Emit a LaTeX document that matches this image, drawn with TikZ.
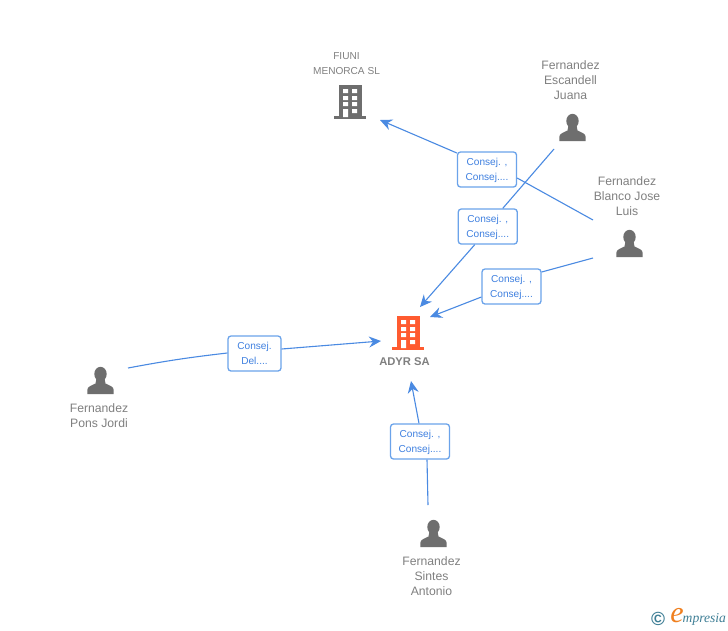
\documentclass[tikz,border=0pt]{standalone}
\usepackage{fontspec}
\setmainfont{Liberation Sans}
\newfontfamily\logoserif{Liberation Serif}
\usetikzlibrary{arrows.meta}
\definecolor{linkblue}{HTML}{4A8AE2}
\definecolor{boxblue}{HTML}{6BA3EA}
\definecolor{txtblue}{HTML}{3F80E0}
\definecolor{txtgray}{HTML}{808080}
\definecolor{icongray}{HTML}{6E6E6E}
\definecolor{orangeco}{HTML}{FF5B30}
\definecolor{logoteal}{HTML}{3F7F96}
\definecolor{logoorange}{HTML}{F08020}
\newcommand{\lowerline}{\rule{0pt}{9.3pt}}
\tikzset{
  x=1pt,y=-1pt,
  conn/.style={draw=linkblue,line width=1.1pt},
  arrowconn/.style={conn,-{Stealth[length=12pt,width=11pt,inset=4pt]}},
  rolebox/.style={draw=boxblue,line width=1.3pt,rounded corners=3pt,fill=white,text=txtblue,
    minimum width=59pt,minimum height=35pt,inner sep=0pt,align=center,
    font=\fontsize{10.1}{15.2}\selectfont},
  pname/.style={text=txtgray,align=center,inner sep=0pt,font=\fontsize{12.2}{15}\selectfont},
  coname/.style={text=txtgray,align=center,inner sep=0pt,font=\fontsize{10.1}{15}\selectfont},
  person/.pic={
    \fill[icongray] (0,7) ellipse [x radius=6.2,y radius=7.2];
    \fill[icongray] (-13.2,27) -- (-13.2,23) .. controls (-13.2,19.5) and (-9,18.5) .. (-5,16.5) -- (-4,11) -- (4,11) -- (5,16.5) .. controls (9,18.5) and (13.2,19.5) .. (13.2,23) -- (13.2,27) -- cycle;
  },
  building/.pic={
    \fill[pic actions] (5,0) rectangle (27.5,31);
    \fill[pic actions] (0,31) rectangle (32,34);
    \fill[white] (9,4) rectangle (14,8) (18,4) rectangle (23,8)
                 (9,11) rectangle (14,15) (18,11) rectangle (23,15)
                 (9,17) rectangle (14,21) (18,17) rectangle (23,21)
                 (9,24) rectangle (14,32) (18,24) rectangle (23,28);
  },
}
\begin{document}
\begin{tikzpicture}
\useasboundingbox[fill=white] (0,0) rectangle (728,630);
% icons
\pic[fill=icongray] at (334,85) {building};
\pic[fill=orangeco] at (392,316) {building};
\pic at (100.5,367) {person};
\pic at (572.5,114) {person};
\pic at (629.5,230) {person};
\pic at (433.5,520) {person};
% labels
\node[coname] (fiuni) at (346.5,64) {FIUNI\\MENORCA SL};
\node[text=txtgray,inner sep=0pt,font=\bfseries\fontsize{11.2}{13}\selectfont] (adyr) at (404.5,361.5) {ADYR SA};
\node[pname] (pons) at (99,415.5) {Fernandez\\Pons Jordi};
\node[pname] (escandell) at (570.5,80) {Fernandez\\Escandell\\Juana};
\node[pname] (blanco) at (627,196) {Fernandez\\Blanco Jose\\Luis};
\node[pname] (sintes) at (431.5,576) {Fernandez\\Sintes\\Antonio};
% connector ends
\coordinate (pOut) at (128,368);
\coordinate (eOut) at (554,149);
\coordinate (bOutA) at (593,220);
\coordinate (bOutB) at (593,258);
\coordinate (sOut) at (428,505);
\coordinate (fiuniIn) at (380,120);
\coordinate (adyrInE) at (420,307);
\coordinate (adyrInB) at (430,317);
\coordinate (adyrInP) at (381,341);
\coordinate (adyrInS) at (411,381);
% role boxes
\node[rolebox] (box1) at (487,169.5) {\lowerline Consej. ,\\Consej....};
\node[rolebox] (box2) at (487.75,226.5) {\lowerline Consej. ,\\Consej....};
\node[rolebox] (box3) at (511.5,286.5) {\lowerline Consej. ,\\Consej....};
\node[rolebox,minimum width=53pt] (box4) at (254.5,353.5) {Consej.\\Del....};
\node[rolebox] (box5) at (420,441.5) {\lowerline Consej. ,\\Consej....};
% connectors
\draw[conn] (bOutA) -- ([yshift=-8.5pt]box1.east);
\draw[arrowconn] ([yshift=16.5pt]box1.west) -- (fiuniIn);
\draw[conn] (eOut) -- ([xshift=15pt]box2.north);
\draw[arrowconn] ([xshift=-13pt]box2.south) -- (adyrInE);
\draw[conn] (bOutB) -- ([yshift=14.5pt]box3.east);
\draw[arrowconn] ([yshift=-10.5pt]box3.west) -- (adyrInB);
\draw[conn] (pOut) to[bend left=2] ([yshift=0.5pt]box4.west);
\draw[arrowconn] ([yshift=4.5pt]box4.east) -- (adyrInP);
\draw[conn] (sOut) -- ([xshift=7pt]box5.south);
\draw[arrowconn] ([xshift=-1pt]box5.north) -- (adyrInS);
% logo
\node[text=logoteal,inner sep=0pt,font=\bfseries\fontsize{19}{19}\selectfont] (copy) at (658,619) {©};
\node[text=logoorange,inner sep=0pt,font=\logoserif\itshape\fontsize{30}{30}\selectfont] (logoe) at (677,616) {e};
\node[text=logoteal,inner sep=0pt,anchor=west,font=\logoserif\itshape\fontsize{13.6}{14}\selectfont] (logot) at (682.5,619.5) {mpresia};
\end{tikzpicture}
\end{document}
